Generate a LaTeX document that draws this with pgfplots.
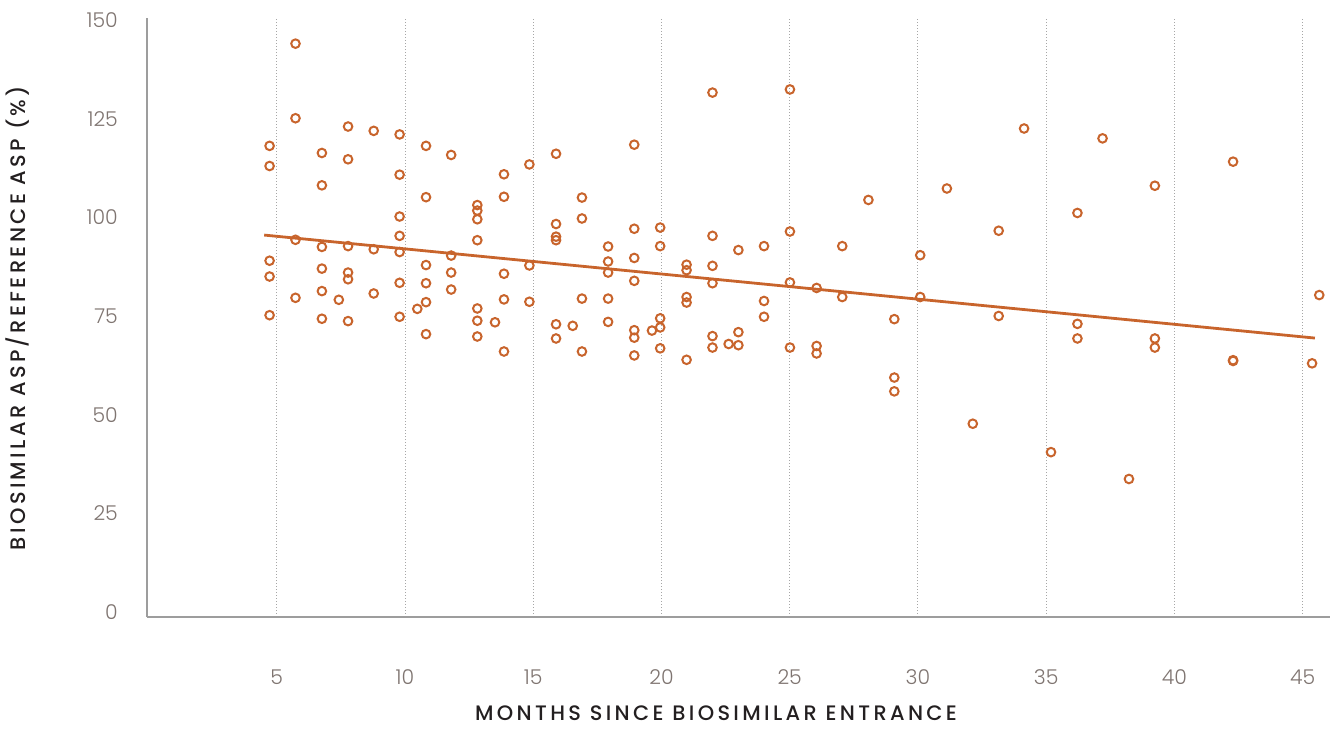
\documentclass[border=0pt]{standalone}
\usepackage{fontspec}
\setmainfont{Poppins}[UprightFont=* Light]
\newfontfamily\titlefont{Poppins}[UprightFont=* Medium, LetterSpace=16]
\usepackage{pgfplots}
\pgfplotsset{compat=1.18}
\definecolor{dotc}{HTML}{C8642C}
\definecolor{tickc}{HTML}{7F7571}
\definecolor{axc}{HTML}{9D9D9D}
\definecolor{titc}{HTML}{231F20}
\begin{document}
\begin{tikzpicture}
\path[use as bounding box] (0,0) rectangle (1333bp,730bp);
\begin{axis}[
  at={(147bp,113bp)}, anchor=south west,
  scale only axis, width=1183bp, height=599bp,
  xmin=-0.06, xmax=46.07, ymin=-1.27, ymax=150.5,
  axis x line=bottom, axis y line=left,
  axis line style={-, color=axc, line width=2.4bp},
  major tick length=0pt,
  xtick={5,10,...,45}, ytick={0,25,...,150},
  xmajorgrids, grid style={color=gray!70, line width=0.9bp, dash pattern=on 0.9bp off 2.1bp},
  /pgf/number format/assume math mode=true,
  tick label style={font=\fontsize{20.5}{20.5}\selectfont, text=tickc},
  xticklabel style={anchor=center, yshift=-60bp},
  yticklabel style={anchor=east, inner sep=0pt, xshift=-29bp},
  xlabel={MONTHS SINCE BIOSIMILAR ENTRANCE},
  ylabel={BIOSIMILAR ASP/REFERENCE ASP (\%)},
  xlabel style={at={(axis description cs:0.481,-0.161)}, anchor=center, inner sep=0pt, font=\titlefont\fontsize{21}{21}\selectfont, text=titc},
  ylabel style={at={(axis description cs:-0.109,0.499)}, anchor=center, inner sep=0pt, rotate=0, font=\titlefont\fontsize{21}{21}\selectfont, text=titc},
  clip=false,
]
\addplot[only marks, mark=o, mark size=4.3bp, mark options={line width=2bp, draw=dotc, fill=white}] coordinates {
(4.72,118.1)(4.72,113.0)(4.72,89.0)(4.72,85.0)(4.72,75.2)
(5.73,144.0)(5.73,125.1)(5.73,94.3)(5.73,79.6)
(6.76,116.3)(6.76,108.1)(6.76,92.5)(6.76,87.0)(6.76,81.3)(6.76,74.3)
(7.42,79.1)
(7.78,123.0)(7.78,114.7)(7.78,92.7)(7.78,86.0)(7.78,84.3)(7.78,73.7)
(8.78,121.9)(8.78,91.9)(8.78,80.7)
(9.79,121.0)(9.79,110.8)(9.79,100.2)(9.79,95.3)(9.79,91.2)(9.79,83.4)(9.79,74.8)
(10.48,76.8)
(10.82,118.1)(10.82,105.1)(10.82,87.9)(10.82,83.3)(10.82,78.5)(10.82,70.4)
(11.8,115.8)(11.8,90.3)(11.8,86.0)(11.8,81.7)
(12.82,103.1)(12.82,101.7)(12.82,99.5)(12.82,94.2)(12.82,76.9)(12.82,73.8)(12.82,69.8)
(13.51,73.4)
(13.86,110.9)(13.86,105.2)(13.86,85.7)(13.86,79.2)(13.86,66.0)
(14.85,113.4)(14.85,87.8)(14.85,78.6)
(15.89,116.1)(15.89,98.3)(15.89,95.1)(15.89,94.2)(15.89,72.9)(15.89,69.3)
(16.54,72.5)
(16.9,105.0)(16.9,99.7)(16.9,79.4)(16.9,66.0)
(17.92,92.6)(17.92,88.8)(17.92,86.0)(17.92,79.4)(17.92,73.5)
(18.94,118.4)(18.94,97.1)(18.94,89.7)(18.94,83.9)(18.94,71.4)(18.94,69.5)(18.94,65.0)
(19.63,71.3)
(19.95,97.4)(19.95,92.7)(19.95,74.4)(19.95,72.1)(19.95,66.8)
(20.98,88.0)(20.98,86.6)(20.98,79.8)(20.98,78.4)(20.98,63.9)
(21.99,131.6)(21.99,95.3)(21.99,87.7)(21.99,83.3)(21.99,69.9)(21.99,67.0)
(22.62,67.9)
(23.0,91.7)(23.0,70.9)(23.0,67.6)
(24.0,92.7)(24.0,78.8)(24.0,74.8)
(25.01,132.4)(25.01,96.4)(25.01,83.5)(25.01,67.0)
(26.05,82.1)(26.05,67.4)(26.05,65.5)
(27.05,92.7)(27.05,79.8)
(28.07,104.4)
(29.08,74.2)(29.08,59.4)(29.08,55.9)
(30.09,90.4)(30.09,79.8)
(31.13,107.3)
(32.14,47.7)
(33.15,96.6)(33.15,75.0)
(34.14,122.5)
(35.19,40.5)
(36.22,101.1)(36.22,73.0)(36.22,69.3)
(37.2,120.0)
(38.23,33.7)
(39.24,108.0)(39.24,69.3)(39.24,67.0)
(42.29,114.1)(42.29,63.8)(42.29,63.6)
(45.37,63.0)
(45.65,80.3)
};
\addplot[no marks, draw=dotc, line width=2.8bp] coordinates {(4.51,95.5)(45.48,69.4)};
\end{axis}
\end{tikzpicture}
\end{document}
